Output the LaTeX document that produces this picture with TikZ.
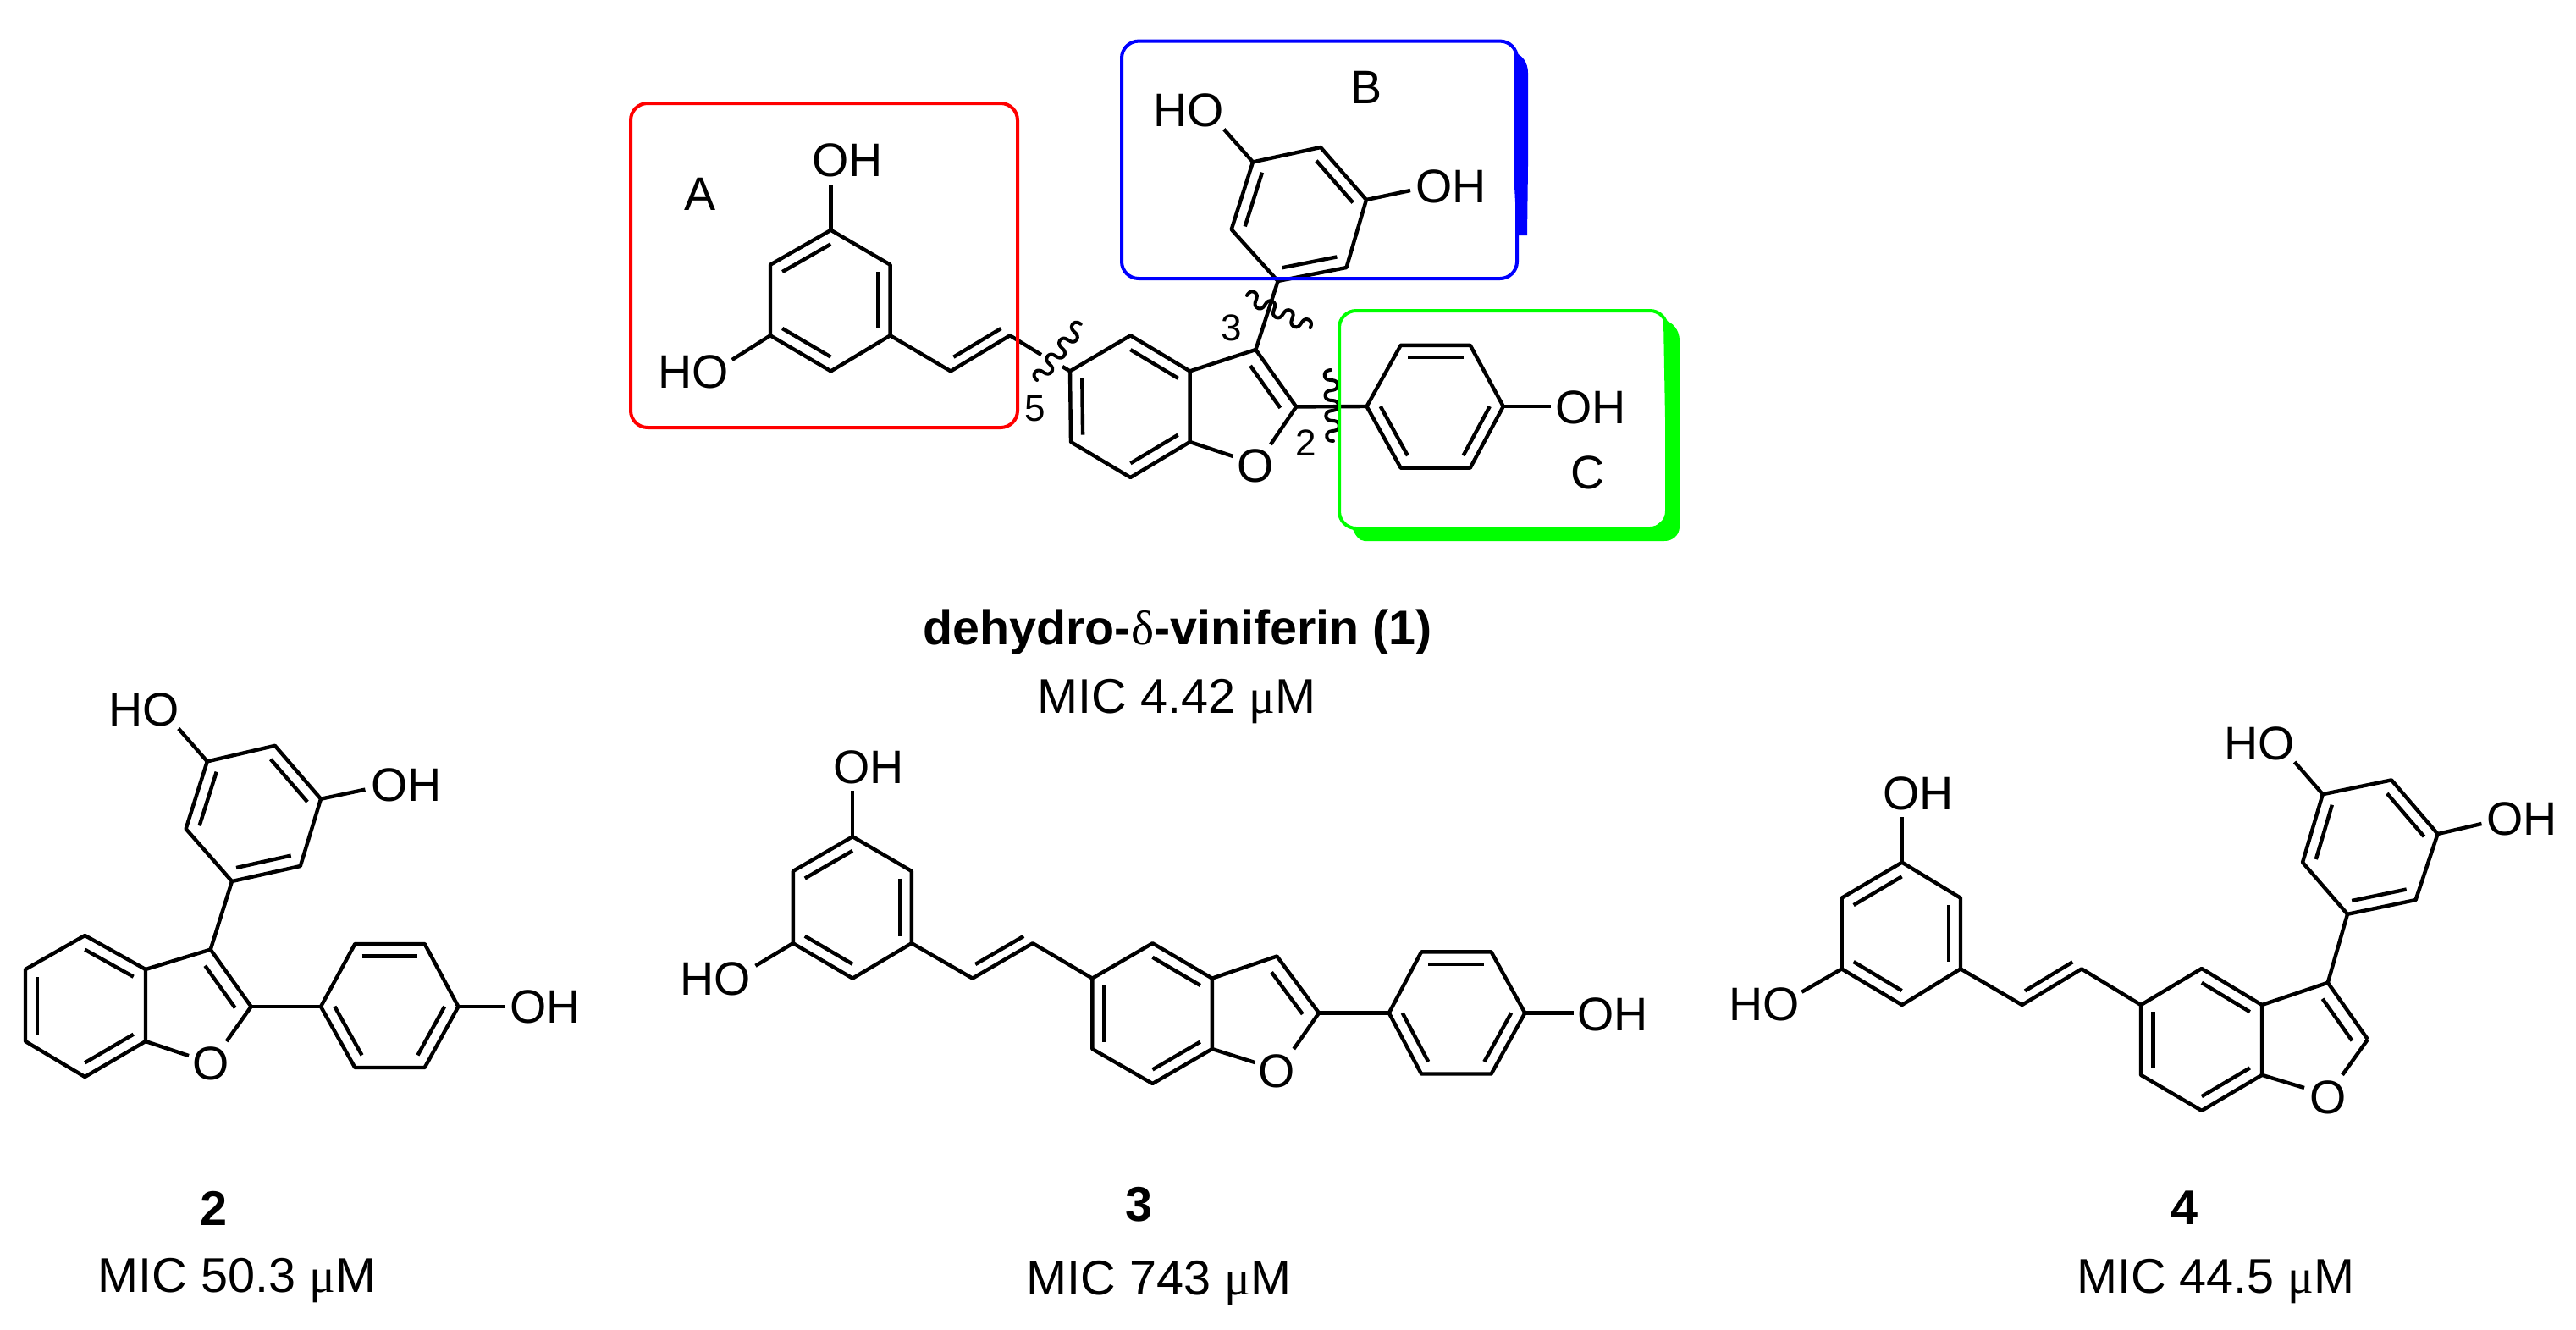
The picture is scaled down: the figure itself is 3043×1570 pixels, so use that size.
\documentclass[tikz,border=0pt]{standalone}
\usepackage{fontspec}
\setmainfont{Liberation Sans}
\newfontfamily\symf{Liberation Serif}
\usetikzlibrary{calc}
\tikzset{
  bond/.style={line width=2.2pt,line join=round,draw=black},
  lbl/.style={font=\fontsize{27.8}{30}\selectfont,inner sep=0pt,text height=19.9pt,text depth=0pt,text=black},
  captxt/.style={font=\fontsize{28.8}{30}\selectfont,inner sep=0pt,text height=20.6pt,text depth=0pt,text=black},
  num/.style={font=\fontsize{22}{24}\selectfont,inner sep=0pt,text height=15.8pt,text depth=0pt,text=black},
  wave/.style={line width=2pt,line cap=round,line join=round,draw=black},
  boxframe/.style={line width=2pt,rounded corners=10pt}
}
\newcommand\dbl[4][0.2]{\draw[bond] ($(#2)!#1!(#4)$) -- ($(#3)!#1!(#4)$);}
\newcommand\hexa[7]{%
  \coordinate (#11) at #2; \coordinate (#12) at #3; \coordinate (#13) at #4;
  \coordinate (#14) at #5; \coordinate (#15) at #6; \coordinate (#16) at #7;
  \coordinate (#1c) at ($(#11)!.5!(#14)$);
  \draw[bond] (#11)--(#12)--(#13)--(#14)--(#15)--(#16)--cycle;
  \dbl{#11}{#12}{#1c}\dbl{#13}{#14}{#1c}\dbl{#15}{#16}{#1c}}
% meandering cut mark: start coordinate, canvas angle, length in px, side of first lobe
\newcommand\wav[4]{\draw[wave,shift={(#1)},rotate=#2] plot[samples=90,domain=0:#3] ({\x-1.5*sin(30*\x)},{#4*7.5*sin(15*\x)});}
\begin{document}
\begin{tikzpicture}[x=0.5pt,y=-0.5pt]
\useasboundingbox (0,0) rectangle (3043,1570);
\fill[white] (0,0) rectangle (3043,1570);

% ---------- molecule 1 ----------
\hexa{aa}{(910,312.7)}{(981.5,271.8)}{(1051.6,312.7)}{(1051.6,396.3)}{(981.5,438.4)}{(910,396.3)}
\hexa{ab}{(1335.4,396.3)}{(1405.6,438.4)}{(1405.6,522)}{(1335.4,564)}{(1265,522)}{(1264,438.4)}
\hexa{ac}{(1509.6,332)}{(1590.5,316)}{(1614,236)}{(1560,174)}{(1480,191.4)}{(1454.7,271)}
\hexa{ad}{(1654.7,407.8)}{(1736.7,407.8)}{(1775.8,480)}{(1736.7,552.7)}{(1654.7,552.7)}{(1614.5,480)}
\coordinate (av1) at (1123,438.4); \coordinate (av2) at (1193,396.3);
\coordinate (avc) at (1140,355);
\coordinate (af3) at (1483.4,413); \coordinate (af2) at (1531.2,480.4);
\coordinate (afc) at (1459,486);
\coordinate (abr1) at (1230,419); \coordinate (abr2) at (1255,433);
\draw[bond] (aa4)--(av1)--(av2)--(abr1);
\draw[bond] (abr2)--(ab6);
\dbl{av1}{av2}{avc}
\draw[bond] (ab2)--(af3)--(af2);
\dbl[0.26]{af3}{af2}{afc}
\draw[bond] (af3)--(ac1);
\draw[bond] (af2)--(ad6);
\coordinate (ae1) at (981.5,218); \coordinate (ae2) at (864.8,425);
\coordinate (ae3) at (1445.8,152.6); \coordinate (ae4) at (1666,225);
\coordinate (ae5) at (1831.5,480); \coordinate (ae6) at (1456.6,539); \coordinate (ae7) at (1501,525);
\draw[bond] (aa2)--(ae1);
\draw[bond] (aa6)--(ae2);
\draw[bond] (ac5)--(ae3);
\draw[bond] (ac3)--(ae4);
\draw[bond] (ad3)--(ae5);
\draw[bond] (ab3)--(ae6);
\draw[bond] (af2)--(ae7);
\node[lbl] (aOH1) at (1001,188.6) {OH};
\node[lbl] (aHO1) at (819,439) {HO};
\node[lbl] (aHO2) at (1404,130) {HO};
\node[lbl] (aOH2) at (1713.8,220) {OH};
\node[lbl] (aOH3) at (1879,481) {OH};
\node[lbl] (aO) at (1483.4,549.4) {O};
\node[lbl] (lA) at (827,229) {A};
\node[lbl] (lB) at (1614.5,103) {B};
\node[lbl] (lC) at (1876,557.6) {C};
\node[num] (n3) at (1454.7,386.5) {3};
\node[num] (n5) at (1223,482) {5};
\node[num] (n2) at (1543,523) {2};
% wavy cuts
\coordinate (w5a) at (1225,449);
\coordinate (w3a) at (1473,349);
\coordinate (w2a) at (1572,437);
\wav{w5a}{52}{84}{-1}
\wav{w3a}{-27}{84}{-1}
\wav{w2a}{-88}{84}{1}
% frames and their shadows
\fill[blue] (1788,62) .. controls (1798,64) and (1805,74) .. (1805,86) -- (1805,195) -- (1804,278) -- (1792,278) -- (1788,200) -- cycle;
\fill[green] (1965,378) .. controls (1976,380) and (1984,390) .. (1984,402) -- (1984,622) .. controls (1984,632) and (1976,639) .. (1966,639) -- (1612,639) .. controls (1606,639) and (1600,632) .. (1597,622) -- (1955,622) -- (1969,610) -- cycle;
\draw[boxframe,red] (745,122) rectangle (1202,505);
\draw[boxframe,blue] (1325,48.6) rectangle (1792,329);
\draw[boxframe,green] (1582,367) rectangle (1969,624);
\node[captxt] (tA) at (1391,741) {\fontsize{28.7}{30}\selectfont\textbf{dehydro-{\symf\mdseries δ}-viniferin (1)}};
\node[captxt] (tB) at (1390,822) {MIC 4.42 {\symf μ}M};

% ---------- molecule 2 ----------
\hexa{ba}{(100.3,1105)}{(172,1145)}{(172,1230)}{(100.3,1272)}{(30,1230)}{(30,1145)}
\hexa{bb}{(274,1041)}{(354.8,1023)}{(379,943.7)}{(324.8,880.8)}{(244.8,899.4)}{(219.6,979)}
\hexa{bd}{(419.3,1115)}{(501.7,1115)}{(541.4,1189)}{(501.7,1261)}{(419.3,1261)}{(379,1189)}
\coordinate (bf3) at (248.7,1121.6); \coordinate (bf2) at (296.7,1189);
\coordinate (bfc) at (224,1195);
\draw[bond] (ba2)--(bf3)--(bf2);
\dbl[0.26]{bf3}{bf2}{bfc}
\draw[bond] (bf3)--(bb1);
\draw[bond] (bf2)--(bd6);
\coordinate (be1) at (210.9,860.6); \coordinate (be2) at (431.4,932.6);
\coordinate (be3) at (596.2,1189); \coordinate (be4) at (223,1247); \coordinate (be5) at (267.6,1230);
\draw[bond] (bb5)--(be1);
\draw[bond] (bb3)--(be2);
\draw[bond] (bd3)--(be3);
\draw[bond] (ba3)--(be4);
\draw[bond] (bf2)--(be5);
\node[lbl] (bHO) at (169.7,838) {HO};
\node[lbl] (bOH1) at (480,927) {OH};
\node[lbl] (bOH2) at (643.7,1189) {OH};
\node[lbl] (bO) at (248.7,1256) {O};
\node[captxt] (t2) at (253,1427) {\textbf{2}};
\node[captxt] (t2m) at (280,1505.5) {MIC 50.3 {\symf μ}M};

% ---------- molecule 3 ----------
\hexa{ca}{(936.8,1029)}{(1007.2,988.2)}{(1076.9,1029)}{(1076.9,1114.2)}{(1007.2,1155.6)}{(936.8,1114.2)}
\hexa{cb}{(1361.5,1114.2)}{(1431.9,1155.6)}{(1431.9,1239)}{(1361.5,1280)}{(1290.3,1239)}{(1290.3,1155.6)}
\hexa{cd}{(1679,1124.4)}{(1761.6,1124.4)}{(1801.4,1196.5)}{(1761.6,1268.5)}{(1679,1268.5)}{(1640.8,1196.5)}
\coordinate (cv1) at (1148.8,1155.6); \coordinate (cv2) at (1220,1114.2);
\coordinate (cvc) at (1165.8,1072.6);
\coordinate (cf3) at (1508.4,1129.5); \coordinate (cf2) at (1558,1196.5);
\coordinate (cfc) at (1484,1202);
\draw[bond] (ca4)--(cv1)--(cv2)--(cb6);
\dbl{cv1}{cv2}{cvc}
\draw[bond] (cb2)--(cf3)--(cf2);
\dbl[0.26]{cf3}{cf2}{cfc}
\draw[bond] (cf2)--(cd6);
\coordinate (ce1) at (1007.2,933.7); \coordinate (ce2) at (892.5,1140.8);
\coordinate (ce3) at (1858.8,1196.5); \coordinate (ce4) at (1482.4,1255); \coordinate (ce5) at (1528.3,1239);
\draw[bond] (ca2)--(ce1);
\draw[bond] (ca6)--(ce2);
\draw[bond] (cd3)--(ce3);
\draw[bond] (cb3)--(ce4);
\draw[bond] (cf2)--(ce5);
\node[lbl] (cOH1) at (1026.4,905.3) {OH};
\node[lbl] (cHO) at (845,1155.6) {HO};
\node[lbl] (cOH2) at (1904.7,1197.6) {OH};
\node[lbl] (cO) at (1508.4,1264.6) {O};
\node[captxt] (t3) at (1346,1421.8) {\textbf{3}};
\node[captxt] (t3m) at (1369,1508.6) {MIC 743 {\symf μ}M};

% ---------- molecule 4 ----------
\hexa{da}{(2175.6,1060.7)}{(2246.8,1018.6)}{(2316,1060.7)}{(2316,1144.4)}{(2246.8,1187)}{(2175.6,1144.4)}
\hexa{db}{(2600.8,1144)}{(2672,1187)}{(2672,1269.8)}{(2600.8,1311.9)}{(2529,1269.8)}{(2529,1187)}
\hexa{dc}{(2773,1079.8)}{(2853.6,1063)}{(2879.6,985)}{(2825,921.4)}{(2743.8,938.2)}{(2720,1018.6)}
\coordinate (dv1) at (2388.6,1187); \coordinate (dv2) at (2459,1144.4);
\coordinate (dvc) at (2405.6,1104);
\coordinate (df3) at (2749.8,1160.7); \coordinate (df2) at (2797,1227.7);
\coordinate (dfc) at (2725.8,1234);
\draw[bond] (da4)--(dv1)--(dv2)--(db6);
\dbl{dv1}{dv2}{dvc}
\draw[bond] (db2)--(df3)--(df2);
\dbl[0.26]{df3}{df2}{dfc}
\draw[bond] (df3)--(dc1);
\coordinate (de1) at (2246.8,964.5); \coordinate (de2) at (2128.4,1171.7);
\coordinate (de3) at (2710.6,900); \coordinate (de4) at (2931.5,973);
\coordinate (de5) at (2722,1285); \coordinate (de6) at (2767,1269.8);
\draw[bond] (da2)--(de1);
\draw[bond] (da6)--(de2);
\draw[bond] (dc5)--(de3);
\draw[bond] (dc3)--(de4);
\draw[bond] (db3)--(de5);
\draw[bond] (df2)--(de6);
\node[lbl] (dOH1) at (2266,936.3) {OH};
\node[lbl] (dHO1) at (2084.5,1186) {HO};
\node[lbl] (dHO2) at (2668.7,877.4) {HO};
\node[lbl] (dOH2) at (2979.4,967) {OH};
\node[lbl] (dO) at (2749.8,1296) {O};
\node[captxt] (t4) at (2580,1426) {\textbf{4}};
\node[captxt] (t4m) at (2617.4,1506.6) {MIC 44.5 {\symf μ}M};
\end{tikzpicture}
\end{document}
